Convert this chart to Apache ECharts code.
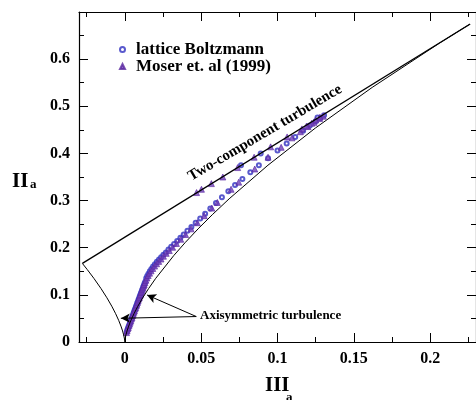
<!DOCTYPE html>
<html>
<head>
<meta charset="utf-8">
<script src="https://cdn.jsdelivr.net/npm/echarts@6/dist/echarts.min.js"></script>
<style>
  html, body { margin: 0; padding: 0; background: #fff; }
  #chart { width: 476px; height: 400px; }
</style>
</head>
<body>
<div id="chart"></div>
<script>
// tick values
const xMajorTicks = [0, 0.05, 0.1, 0.15, 0.2];
const xMinorTicks = [-0.025, 0.025, 0.075, 0.125, 0.175, 0.225];
const seriesNames = ['lattice Boltzmann', 'Moser et. al (1999)'];

// Lumley triangle borders, [III_a, II_a]
const twoComponentLine = [[-0.02778, 0.16667], [0.2262, 0.6746]];
const axisymLeft = [[-0.02778, 0.16667], [-0.02458, 0.1536], [-0.02025, 0.135], [-0.0156, 0.11344],
  [-0.01172, 0.09375], [-0.00854, 0.07594], [-0.006, 0.06], [-0.00402, 0.04594], [-0.00253, 0.03375],
  [-0.00146, 0.02344], [-0.00075, 0.015], [-0.00032, 0.00844], [-0.00009, 0.00375], [-0.00001, 0.00094], [0, 0]];
const axisymRight = [[0, 0], [0.00001, 0.00094], [0.00009, 0.00375], [0.00032, 0.00844], [0.00075, 0.015],
  [0.00146, 0.02344], [0.00253, 0.03375], [0.00402, 0.04594], [0.006, 0.06], [0.00854, 0.07594],
  [0.01172, 0.09375], [0.0156, 0.11344], [0.02025, 0.135], [0.03216, 0.18375], [0.03955, 0.2109],
  [0.048, 0.24], [0.05758, 0.2709], [0.06834, 0.30375], [0.09375, 0.375], [0.12478, 0.45375],
  [0.162, 0.54], [0.20597, 0.63375], [0.22222, 0.66667], [0.22557, 0.67335]];

// lattice Boltzmann points
const lbPoints = [[0.0013, 0.022], [0.0017, 0.026], [0.0021, 0.029], [0.0025, 0.033], [0.0029, 0.036],
  [0.0033, 0.040], [0.0037, 0.043], [0.0041, 0.047], [0.0045, 0.050], [0.0049, 0.054], [0.0053, 0.057],
  [0.0057, 0.061], [0.0061, 0.064], [0.0065, 0.068], [0.0069, 0.071], [0.0073, 0.075], [0.0077, 0.078],
  [0.0081, 0.082], [0.0085, 0.085], [0.0089, 0.089], [0.0093, 0.092], [0.0097, 0.096], [0.0101, 0.099],
  [0.0105, 0.103], [0.0109, 0.106], [0.0113, 0.110], [0.0117, 0.113], [0.0121, 0.117], [0.0125, 0.120],
  [0.0129, 0.124], [0.0134, 0.128], [0.0140, 0.135], [0.0147, 0.140], [0.0155, 0.145], [0.0164, 0.150],
  [0.0174, 0.155], [0.0185, 0.160], [0.0197, 0.165], [0.0210, 0.170], [0.0224, 0.175], [0.0238, 0.180],
  [0.0253, 0.185], [0.0269, 0.190], [0.0286, 0.196], [0.0304, 0.202], [0.0323, 0.208], [0.0343, 0.214],
  [0.0364, 0.221], [0.0386, 0.228], [0.0410, 0.236], [0.0436, 0.244], [0.0464, 0.253], [0.0494, 0.262],
  [0.0526, 0.272], [0.0560, 0.283], [0.0597, 0.295], [0.0636, 0.307], [0.0678, 0.320], [0.0722, 0.333],
  [0.0770, 0.346], [0.0822, 0.360], [0.0878, 0.375], [0.0938, 0.390], [0.1000, 0.406], [0.1060, 0.421],
  [0.1116, 0.435], [0.1168, 0.448], [0.1212, 0.459], [0.1250, 0.468], [0.1280, 0.475], [0.1305, 0.481],
  [0.1262, 0.476], [0.0890, 0.400], [0.0761, 0.375]];

// Moser et al. DNS points
const moserPoints = [[0.0011, 0.020], [0.0015, 0.024], [0.0019, 0.028], [0.0023, 0.031], [0.0027, 0.035],
  [0.0031, 0.038], [0.0035, 0.042], [0.0039, 0.045], [0.0043, 0.049], [0.0047, 0.052], [0.0051, 0.056],
  [0.0055, 0.059], [0.0059, 0.063], [0.0063, 0.066], [0.0067, 0.070], [0.0071, 0.073], [0.0075, 0.077],
  [0.0079, 0.080], [0.0083, 0.084], [0.0087, 0.087], [0.0091, 0.091], [0.0095, 0.094], [0.0099, 0.098],
  [0.0103, 0.101], [0.0107, 0.105], [0.0111, 0.108], [0.0115, 0.112], [0.0119, 0.115], [0.0123, 0.119],
  [0.0127, 0.122], [0.0132, 0.126], [0.0138, 0.131], [0.0145, 0.136], [0.0153, 0.141], [0.0162, 0.146],
  [0.0172, 0.151], [0.0183, 0.156], [0.0195, 0.161], [0.0208, 0.166], [0.0222, 0.171], [0.0237, 0.176],
  [0.0253, 0.182], [0.0271, 0.188], [0.0291, 0.194], [0.0313, 0.201], [0.0338, 0.209], [0.0366, 0.218],
  [0.0398, 0.228], [0.0434, 0.240], [0.0475, 0.253], [0.0520, 0.268], [0.0570, 0.284], [0.0606, 0.296],
  [0.0696, 0.324], [0.0746, 0.339], [0.0851, 0.367], [0.0938, 0.392], [0.1024, 0.413], [0.1095, 0.433],
  [0.1150, 0.446], [0.1200, 0.457], [0.1240, 0.466], [0.1275, 0.474], [0.1300, 0.479],
  [0.1278, 0.477], [0.1250, 0.471], [0.1224, 0.464], [0.1190, 0.458], [0.1160, 0.452], [0.1063, 0.435],
  [0.0955, 0.414], [0.0847, 0.392], [0.0739, 0.370], [0.0642, 0.350], [0.0567, 0.336], [0.0502, 0.324],
  [0.0470, 0.317]];

const serif = "'Liberation Serif', 'DejaVu Serif', serif";
const labelFont = { fontFamily: serif, fontWeight: 'bold', fontSize: 16, color: '#000' };
const axisLine = { show: true, onZero: false, lineStyle: { color: '#000', width: 1.2 } };

function xAxisPair(position) {
  return [
    {
      type: 'value', position: position, min: -0.03, max: 0.23,
      axisLine: axisLine, splitLine: { show: false },
      axisTick: { inside: true, length: 9, customValues: xMajorTicks, lineStyle: { color: '#000' } },
      axisLabel: position === 'bottom'
        ? { ...labelFont, margin: 9, customValues: xMajorTicks }
        : { show: false }
    },
    {
      type: 'value', position: position, min: -0.03, max: 0.23,
      axisLine: { show: false, onZero: false }, splitLine: { show: false },
      axisTick: { inside: true, length: 5, customValues: xMinorTicks, lineStyle: { color: '#000' } },
      axisLabel: { show: false }
    }
  ];
}

function yAxis(position) {
  return {
    type: 'value', position: position, min: 0, max: 0.7, interval: 0.1,
    axisLine: axisLine, splitLine: { show: false },
    axisTick: { inside: true, length: 9, lineStyle: { color: '#000' } },
    minorTick: { show: true, splitNumber: 2, length: 5, lineStyle: { color: '#000' } },
    axisLabel: position === 'left'
      ? { ...labelFont, margin: 9, showMaxLabel: false }
      : { show: false }
  };
}

const chart = echarts.init(document.getElementById('chart'));

chart.setOption({
  animation: false,
  grid: { left: 79, right: -5, top: 12, bottom: 58 },
  xAxis: [...xAxisPair('bottom'), ...xAxisPair('top')],
  yAxis: [yAxis('left'), yAxis('right')],
  legend: {
    data: seriesNames,
    orient: 'vertical',
    left: 114, top: 36,
    itemWidth: 5, itemHeight: 5, itemGap: 0,
    selectedMode: false,
    textStyle: {
      fontFamily: serif, fontWeight: 'bold', fontSize: 17, color: '#000',
      lineHeight: 15, padding: [0, 0, 0, 6]
    }
  },
  series: [
    {
      type: 'line', data: twoComponentLine, symbol: 'none', silent: true,
      lineStyle: { color: '#000', width: 1.3 },
      markLine: {
        silent: true, symbol: ['none', 'arrow'], symbolSize: [7, 9],
        label: { show: false },
        lineStyle: { color: '#000', width: 1, type: 'solid' },
        data: [
          [{ coord: [0.0468, 0.054] }, { coord: [-0.0026, 0.0503] }],
          [{ coord: [0.0468, 0.054] }, { coord: [0.0146, 0.0997] }]
        ]
      }
    },
    { type: 'line', data: axisymLeft, symbol: 'none', silent: true, lineStyle: { color: '#000', width: 1 } },
    { type: 'line', data: axisymRight, symbol: 'none', silent: true, lineStyle: { color: '#000', width: 1 } },
    {
      name: seriesNames[0], type: 'scatter', data: lbPoints,
      symbol: 'emptyCircle', symbolSize: 4,
      itemStyle: { color: '#3030c0', borderWidth: 1 }
    },
    {
      name: seriesNames[1], type: 'scatter', data: moserPoints,
      symbol: 'triangle', symbolSize: 6,
      itemStyle: { color: '#7040b8', borderColor: '#5a28a0', borderWidth: 0.8 }
    }
  ],
  graphic: [
    { type: 'text', x: 12, y: 171, style: { text: 'II', font: 'bold 21px ' + serif, fill: '#000' } },
    { type: 'text', x: 30, y: 178, style: { text: 'a', font: 'bold 13px ' + serif, fill: '#000' } },
    { type: 'text', x: 265, y: 375, style: { text: 'III', font: 'bold 21px ' + serif, fill: '#000' } },
    { type: 'text', x: 286, y: 391, style: { text: 'a', font: 'bold 13px ' + serif, fill: '#000' } },
    {
      type: 'text', x: 265, y: 133, rotation: 0.534,
      style: { text: 'Two-component turbulence', font: 'bold 15px ' + serif, fill: '#000', align: 'center', verticalAlign: 'middle' }
    },
    {
      type: 'text', x: 200, y: 316,
      style: { text: 'Axisymmetric turbulence', font: 'bold 13px ' + serif, fill: '#000', verticalAlign: 'middle' }
    }
  ]
});
</script>
</body>
</html>
